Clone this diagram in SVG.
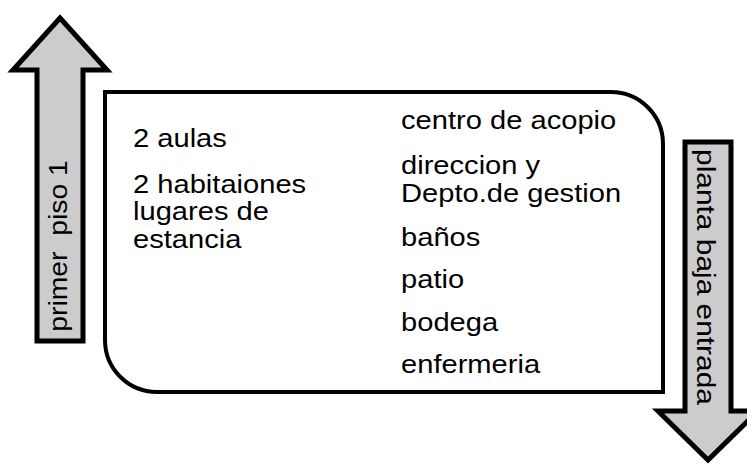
<svg xmlns="http://www.w3.org/2000/svg" width="747" height="464" viewBox="0 0 747 464">
<style>
.arrow{fill:#cccccc;stroke:#000;stroke-width:5;stroke-linejoin:miter}
.box{fill:#fff;stroke:#000;stroke-width:4}
.t{font-family:"Liberation Sans",Arial,sans-serif;font-size:26px;fill:#000}
</style>
<rect width="747" height="464" fill="#fff"/>
<g id="connectors">
<line x1="384" y1="125" x2="384" y2="358" stroke="#000" stroke-width="4"/>
</g>
<g id="arrow-up">
<polygon class="arrow" points="60,18 107,70 83,70 83,341 37,341 37,70 13,70"/>
<text class="t" transform="translate(67,246) rotate(-90) scale(1.09,1)" text-anchor="middle" xml:space="preserve">primer  piso 1</text>
</g>
<g id="main-box">
<path class="box" d="M105,92 H611 A52,52 0 0 1 663,144 V392 H157 A52,52 0 0 1 105,340 Z"/>
</g>
<g id="left-list" transform="translate(133,0) scale(1.12,1)">
<text class="t" x="0" y="147">2 aulas</text>
<text class="t" x="0" y="193">2 habitaiones</text>
<text class="t" x="0" y="220">lugares de</text>
<text class="t" x="0" y="248">estancia</text>
</g>
<g id="right-list" transform="translate(401,0) scale(1.12,1)">
<text class="t" x="0" y="129">centro de acopio</text>
<text class="t" x="0" y="174">direccion y</text>
<text class="t" x="0" y="202">Depto.de gestion</text>
<text class="t" x="0" y="246">baños</text>
<text class="t" x="0" y="288">patio</text>
<text class="t" x="0" y="331">bodega</text>
<text class="t" x="0" y="373">enfermeria</text>
</g>
<g id="arrow-down">
<polygon class="arrow" points="685,142 731,142 731,411 758,411 708,460 658,411 685,411"/>
<text class="t" transform="translate(697,277) rotate(90) scale(1.15,1)" text-anchor="middle">planta baja entrada</text>
</g>
</svg>
